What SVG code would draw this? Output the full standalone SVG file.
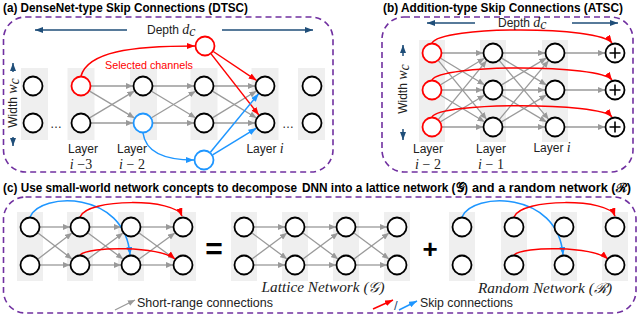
<svg xmlns="http://www.w3.org/2000/svg" width="640" height="317" viewBox="0 0 640 317">
<defs>
<marker id="ag" markerWidth="7" markerHeight="6" refX="7" refY="3" orient="auto" markerUnits="userSpaceOnUse"><path d="M0,0 L7,3 L0,6 z" fill="#999"/></marker>
<marker id="ar" markerWidth="8" markerHeight="6" refX="8" refY="3" orient="auto" markerUnits="userSpaceOnUse"><path d="M0,0 L8,3 L0,6 z" fill="#f00"/></marker>
<marker id="ab" markerWidth="8" markerHeight="6" refX="8" refY="3" orient="auto" markerUnits="userSpaceOnUse"><path d="M0,0 L8,3 L0,6 z" fill="#1e96ff"/></marker>
<marker id="ad" markerWidth="8" markerHeight="6" refX="8" refY="3" orient="auto" markerUnits="userSpaceOnUse"><path d="M0,0 L8,3 L0,6 z" fill="#1f4e79"/></marker>
</defs>
<style>
text{font-family:"Liberation Sans",Arial,sans-serif;fill:#222}
.title{font-weight:bold;font-size:12.5px;fill:#000}
.lbl{font-size:12px}
.m{font-family:"Liberation Serif","DejaVu Serif",serif;font-style:italic;font-size:14px}
.s{font-family:"Liberation Serif","DejaVu Serif",serif;font-size:14px}
.box{fill:none;stroke:#7030a0;stroke-width:1.6;stroke-dasharray:6 4}
.bg{fill:#efefef}
.n{fill:#fff;stroke:#000;stroke-width:1.8}
.nr{fill:#fff;stroke:#f00;stroke-width:1.8}
.nb{fill:#fff;stroke:#1e96ff;stroke-width:1.8}
.g{stroke:#9a9a9a;stroke-width:1.3;fill:none;marker-end:url(#ag)}
.r{stroke:#f00;stroke-width:1.5;fill:none;marker-end:url(#ar)}
.b{stroke:#1e96ff;stroke-width:1.5;fill:none;marker-end:url(#ab)}
.d{stroke:#1f4e79;stroke-width:1.5;fill:none;marker-end:url(#ad)}
.p{stroke:#000;stroke-width:1.6}
</style>

<!-- titles and frames -->
<text class="title" x="3" y="12" textLength="245" lengthAdjust="spacingAndGlyphs">(a) DenseNet-type Skip Connections (DTSC)</text>
<text class="title" x="383" y="12" textLength="240" lengthAdjust="spacingAndGlyphs">(b) Addition-type Skip Connections (ATSC)</text>
<text class="title" x="3" y="192" font-size="12" textLength="294" lengthAdjust="spacingAndGlyphs">(c) Use small-world network concepts to decompose</text>
<text class="title" x="302" y="192" font-size="12" textLength="166" lengthAdjust="spacingAndGlyphs">DNN into a lattice network (𝒢)</text>
<text class="title" x="472" y="192" font-size="12" textLength="159" lengthAdjust="spacingAndGlyphs">and a random network (ℛ)</text>
<rect class="box" x="3.5" y="17" width="329.5" height="155" rx="22"/>
<rect class="box" x="382" y="17" width="251" height="155" rx="22"/>
<rect class="box" x="3.5" y="197" width="632.5" height="116" rx="22"/>

<!-- backgrounds -->
<g id="bg-a">
<rect class="bg" x="21" y="68" width="27" height="72"/>
<rect class="bg" x="67.5" y="68" width="27" height="72"/>
<rect class="bg" x="130" y="68" width="27" height="72"/>
<rect class="bg" x="190.5" y="68" width="27" height="72"/>
<rect class="bg" x="251.5" y="68" width="27" height="72"/>
<rect class="bg" x="298" y="68" width="27" height="72"/>
</g>
<g id="bg-b">
<rect class="bg" x="419" y="40" width="26" height="102"/>
<rect class="bg" x="480" y="40" width="26" height="102"/>
<rect class="bg" x="542" y="40" width="26" height="102"/>
</g>
<g id="bg-c">
<rect class="bg" x="17" y="212" width="26" height="69"/>
<rect class="bg" x="67" y="212" width="26" height="69"/>
<rect class="bg" x="118" y="212" width="26" height="69"/>
<rect class="bg" x="170" y="212" width="26" height="69"/>
<rect class="bg" x="231" y="212" width="26" height="69"/>
<rect class="bg" x="282" y="212" width="26" height="69"/>
<rect class="bg" x="333" y="212" width="26" height="69"/>
<rect class="bg" x="384" y="212" width="26" height="69"/>
<rect class="bg" x="449" y="212" width="26" height="69"/>
<rect class="bg" x="501" y="212" width="26" height="69"/>
<rect class="bg" x="551" y="212" width="26" height="69"/>
<rect class="bg" x="602" y="212" width="26" height="69"/>
</g>

<!-- connectors -->
<g id="connectors">
<!-- (a) depth / width arrows -->
<line class="d" x1="127" y1="30" x2="35" y2="30"/>
<line class="d" x1="222" y1="30" x2="313" y2="30"/>
<line class="d" x1="13" y1="72" x2="13" y2="63"/>
<line class="d" x1="13" y1="137" x2="13" y2="146"/>
<!-- (a) gray -->
<line class="g" x1="91" y1="86" x2="133" y2="86"/>
<line class="g" x1="91" y1="123" x2="133" y2="123"/>
<line class="g" x1="89.6" y1="91.1" x2="134.4" y2="117.9"/>
<line class="g" x1="89.6" y1="117.9" x2="134.4" y2="91.1"/>
<line class="g" x1="153" y1="86" x2="194" y2="86"/>
<line class="g" x1="153" y1="123" x2="194" y2="123"/>
<line class="g" x1="151.5" y1="91.2" x2="195.5" y2="117.8"/>
<line class="g" x1="151.5" y1="117.8" x2="195.5" y2="91.2"/>
<line class="g" x1="214" y1="86" x2="255" y2="86"/>
<line class="g" x1="214" y1="123" x2="255" y2="123"/>
<line class="g" x1="212.4" y1="91.1" x2="256.4" y2="117.9"/>
<line class="g" x1="212.4" y1="117.9" x2="256.4" y2="91.1"/>
<!-- (a) red / blue -->
<path class="r" d="M81,76 C88,52 130,46 195,46"/>
<line class="r" x1="213.3" y1="51.5" x2="256.7" y2="80.5"/>
<line class="r" x1="211.1" y1="53.9" x2="258.9" y2="115.1"/>
<path class="b" d="M143,133 C146,155 170,160 194,160"/>
<line class="b" x1="210.4" y1="152.3" x2="258.6" y2="93.7"/>
<line class="b" x1="212.6" y1="154.8" x2="256.4" y2="128.2"/>

<!-- (b) depth / width arrows -->
<line class="d" x1="475" y1="23" x2="427" y2="23"/>
<line class="d" x1="572" y1="23" x2="618" y2="23"/>
<line class="d" x1="403" y1="56" x2="403" y2="45"/>
<line class="d" x1="403" y1="129" x2="403" y2="140"/>
<!-- (b) gray col1->col2 -->
<line class="g" x1="442" y1="53" x2="483" y2="53"/>
<line class="g" x1="442" y1="90" x2="483" y2="90"/>
<line class="g" x1="442" y1="127" x2="483" y2="127"/>
<line class="g" x1="440.6" y1="58.2" x2="484.4" y2="84.8"/>
<line class="g" x1="440.6" y1="95.2" x2="484.4" y2="121.8"/>
<line class="g" x1="440.6" y1="84.8" x2="484.4" y2="58.2"/>
<line class="g" x1="440.6" y1="121.8" x2="484.4" y2="95.2"/>
<line class="g" x1="438.4" y1="60.7" x2="486.6" y2="119.3"/>
<line class="g" x1="438.4" y1="119.3" x2="486.6" y2="60.7"/>
<!-- (b) gray col2->col3 -->
<line class="g" x1="503" y1="53" x2="545" y2="53"/>
<line class="g" x1="503" y1="90" x2="545" y2="90"/>
<line class="g" x1="503" y1="127" x2="545" y2="127"/>
<line class="g" x1="501.6" y1="58.1" x2="546.4" y2="84.9"/>
<line class="g" x1="501.6" y1="95.1" x2="546.4" y2="121.9"/>
<line class="g" x1="501.6" y1="84.9" x2="546.4" y2="58.1"/>
<line class="g" x1="501.6" y1="121.9" x2="546.4" y2="95.1"/>
<line class="g" x1="499.4" y1="60.7" x2="548.6" y2="119.3"/>
<line class="g" x1="499.4" y1="119.3" x2="548.6" y2="60.7"/>
<!-- (b) gray col3->col4 -->
<line class="g" x1="565" y1="53" x2="605" y2="53"/>
<line class="g" x1="565" y1="90" x2="605" y2="90"/>
<line class="g" x1="565" y1="127" x2="605" y2="127"/>
<!-- (b) red skips -->
<path class="r" d="M432,43 C440,25.5 600,25.5 612,43"/>
<path class="r" d="M432,80 C440,64 600,64 612,80"/>
<path class="r" d="M432,117 C440,102 600,102 612,117"/>

<!-- (c) left network gray -->
<line class="g" x1="40" y1="227" x2="70" y2="227"/>
<line class="g" x1="40" y1="265" x2="70" y2="265"/>
<line class="g" x1="38" y1="233" x2="72" y2="259"/>
<line class="g" x1="38" y1="259" x2="72" y2="233"/>
<line class="g" x1="90" y1="227" x2="121" y2="227"/>
<line class="g" x1="90" y1="265" x2="121" y2="265"/>
<line class="g" x1="88" y1="233" x2="123" y2="259"/>
<line class="g" x1="88" y1="259" x2="123" y2="233"/>
<line class="g" x1="141" y1="227" x2="173" y2="227"/>
<line class="g" x1="141" y1="265" x2="173" y2="265"/>
<line class="g" x1="139.1" y1="232.9" x2="174.9" y2="259.1"/>
<line class="g" x1="139.1" y1="259.1" x2="174.9" y2="232.9"/>
<!-- (c) left network skips -->
<path class="b" d="M30,217 C40,192 125,190 130,255"/>
<path class="r" d="M80,217 C87,198 176,198 182,216"/>
<path class="r" d="M80,255 C89,246 160,246 175,259"/>
<!-- (c) lattice gray -->
<line class="g" x1="254" y1="227" x2="285" y2="227"/>
<line class="g" x1="254" y1="265" x2="285" y2="265"/>
<line class="g" x1="252" y1="233" x2="287" y2="259"/>
<line class="g" x1="252" y1="259" x2="287" y2="233"/>
<line class="g" x1="305" y1="227" x2="336" y2="227"/>
<line class="g" x1="305" y1="265" x2="336" y2="265"/>
<line class="g" x1="303" y1="233" x2="338" y2="259"/>
<line class="g" x1="303" y1="259" x2="338" y2="233"/>
<line class="g" x1="356" y1="227" x2="387" y2="227"/>
<line class="g" x1="356" y1="265" x2="387" y2="265"/>
<line class="g" x1="354" y1="233" x2="389" y2="259"/>
<line class="g" x1="354" y1="259" x2="389" y2="233"/>
<!-- (c) random skips -->
<path class="b" d="M462,217 C472,192 558,190 563,255"/>
<path class="r" d="M514,217 C521,198 609,198 615,216"/>
<path class="r" d="M514,255 C523,246 593,246 608,259"/>
<!-- legend -->
<line class="g" x1="115" y1="310" x2="135" y2="300"/>
<line class="r" x1="373" y1="309" x2="393" y2="300"/>
<line class="b" x1="399" y1="310" x2="417" y2="301"/>
</g>

<!-- nodes (a) -->
<g id="a-c1"><circle class="n" cx="33" cy="86" r="9.5"/><circle class="n" cx="33" cy="123" r="9.5"/></g>
<g id="a-c2"><circle class="nr" cx="81" cy="86" r="9.5"/><circle class="n" cx="81" cy="123" r="9.5"/></g>
<g id="a-c3"><circle class="n" cx="143" cy="86" r="9.5"/><circle class="nb" cx="143" cy="123" r="9.5"/></g>
<g id="a-c4"><circle class="n" cx="204" cy="86" r="9.5"/><circle class="n" cx="204" cy="123" r="9.5"/></g>
<g id="a-sel-red"><circle class="nr" cx="205" cy="46" r="9.5"/></g>
<g id="a-sel-blue"><circle class="nb" cx="204" cy="160" r="9.5"/></g>
<g id="a-c5"><circle class="n" cx="265" cy="86" r="9.5"/><circle class="n" cx="265" cy="123" r="9.5"/></g>
<g id="a-c6"><circle class="n" cx="312" cy="86" r="9.5"/><circle class="n" cx="312" cy="123" r="9.5"/></g>

<!-- nodes (b) -->
<g id="b-c1"><circle class="nr" cx="432" cy="53" r="9.5"/><circle class="nr" cx="432" cy="90" r="9.5"/><circle class="nr" cx="432" cy="127" r="9.5"/></g>
<g id="b-c2"><circle class="n" cx="493" cy="53" r="9.5"/><circle class="n" cx="493" cy="90" r="9.5"/><circle class="n" cx="493" cy="127" r="9.5"/></g>
<g id="b-c3"><circle class="n" cx="555" cy="53" r="9.5"/><circle class="n" cx="555" cy="90" r="9.5"/><circle class="n" cx="555" cy="127" r="9.5"/></g>
<g id="b-add">
<circle class="n" cx="615" cy="53" r="9.5"/><path class="p" d="M609.5,53 H620.5 M615,47.5 V58.5"/>
<circle class="n" cx="615" cy="90" r="9.5"/><path class="p" d="M609.5,90 H620.5 M615,84.5 V95.5"/>
<circle class="n" cx="615" cy="127" r="9.5"/><path class="p" d="M609.5,127 H620.5 M615,121.5 V132.5"/>
</g>

<!-- nodes (c) -->
<g id="c-left">
<circle class="n" cx="30" cy="227" r="9.5"/><circle class="n" cx="30" cy="265" r="9.5"/>
<circle class="n" cx="80" cy="227" r="9.5"/><circle class="n" cx="80" cy="265" r="9.5"/>
<circle class="n" cx="131" cy="227" r="9.5"/><circle class="n" cx="131" cy="265" r="9.5"/>
<circle class="n" cx="183" cy="227" r="9.5"/><circle class="n" cx="183" cy="265" r="9.5"/>
</g>
<g id="c-lattice">
<circle class="n" cx="244" cy="227" r="9.5"/><circle class="n" cx="244" cy="265" r="9.5"/>
<circle class="n" cx="295" cy="227" r="9.5"/><circle class="n" cx="295" cy="265" r="9.5"/>
<circle class="n" cx="346" cy="227" r="9.5"/><circle class="n" cx="346" cy="265" r="9.5"/>
<circle class="n" cx="397" cy="227" r="9.5"/><circle class="n" cx="397" cy="265" r="9.5"/>
</g>
<g id="c-random">
<circle class="n" cx="462" cy="227" r="9.5"/><circle class="n" cx="462" cy="265" r="9.5"/>
<circle class="n" cx="514" cy="227" r="9.5"/><circle class="n" cx="514" cy="265" r="9.5"/>
<circle class="n" cx="564" cy="227" r="9.5"/><circle class="n" cx="564" cy="265" r="9.5"/>
<circle class="n" cx="615" cy="227" r="9.5"/><circle class="n" cx="615" cy="265" r="9.5"/>
</g>

<!-- labels (a) -->
<text class="lbl" x="147" y="34" font-size="12.5">Depth <tspan class="m">d</tspan><tspan class="m" font-size="10" dy="2">c</tspan></text>
<text class="lbl" transform="rotate(-90 13 103)" x="13" y="107" text-anchor="middle" font-size="12.5">Width <tspan class="m">w</tspan><tspan class="m" font-size="10" dy="2">c</tspan></text>
<text x="105" y="69" font-size="11.5" style="fill:#f00" textLength="88" lengthAdjust="spacingAndGlyphs">Selected channels</text>
<text class="lbl" x="56" y="128" text-anchor="middle">…</text>
<text class="lbl" x="288" y="128" text-anchor="middle">…</text>
<text class="lbl" x="83" y="153" text-anchor="middle">Layer</text>
<text x="81" y="169" text-anchor="middle"><tspan class="m">i</tspan><tspan class="s"> −3</tspan></text>
<text class="lbl" x="132" y="153" text-anchor="middle">Layer</text>
<text x="132" y="169" text-anchor="middle"><tspan class="m">i</tspan><tspan class="s"> − 2</tspan></text>
<text class="lbl" x="265" y="153" text-anchor="middle">Layer <tspan class="m">i</tspan></text>

<!-- labels (b) -->
<text class="lbl" x="498" y="27" font-size="12.5">Depth <tspan class="m">d</tspan><tspan class="m" font-size="10" dy="2">c</tspan></text>
<text class="lbl" transform="rotate(-90 403 89)" x="403" y="93" text-anchor="middle" font-size="12">Width <tspan class="m">w</tspan><tspan class="m" font-size="10" dy="2">c</tspan></text>
<text class="lbl" x="428" y="153" text-anchor="middle">Layer</text>
<text x="428" y="169" text-anchor="middle"><tspan class="m">i</tspan><tspan class="s"> − 2</tspan></text>
<text class="lbl" x="491" y="153" text-anchor="middle">Layer</text>
<text x="491" y="169" text-anchor="middle"><tspan class="m">i</tspan><tspan class="s"> − 1</tspan></text>
<text class="lbl" x="552" y="152" text-anchor="middle">Layer <tspan class="m">i</tspan></text>

<!-- labels (c) -->
<text x="214" y="259" text-anchor="middle" font-size="30" font-weight="bold" style="fill:#000">=</text>
<text x="430" y="258" text-anchor="middle" font-size="26" font-weight="bold" style="fill:#000">+</text>
<text class="m" x="323" y="292" text-anchor="middle" font-size="13.5" textLength="123" lengthAdjust="spacingAndGlyphs">Lattice Network (𝒢)</text>
<text class="m" x="545" y="293" text-anchor="middle" font-size="13.5" textLength="134" lengthAdjust="spacingAndGlyphs">Random Network (ℛ)</text>
<text class="lbl" x="137" y="307" font-size="12.5" textLength="136" lengthAdjust="spacingAndGlyphs">Short-range connections</text>
<text x="394" y="310" font-size="13" style="fill:#1f4e79">/</text>
<text class="lbl" x="420" y="307" font-size="12.5" textLength="93" lengthAdjust="spacingAndGlyphs">Skip connections</text>
</svg>
